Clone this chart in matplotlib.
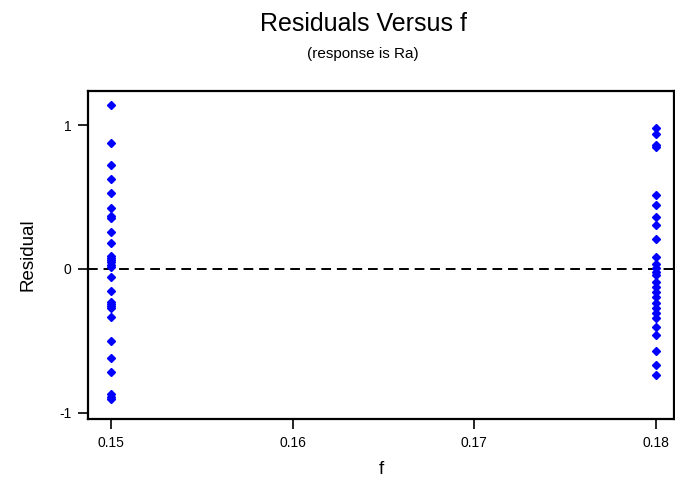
import matplotlib
matplotlib.use("Agg")
import matplotlib.pyplot as plt
import numpy as np

plt.rcParams["font.family"] = ["Liberation Sans", "DejaVu Sans"]
plt.rcParams["axes.unicode_minus"] = False

# residuals, grouped by f level
f_levels = [0.15, 0.18]
resid_015 = [1.143, 0.876, 0.725, 0.627, 0.527, 0.423, 0.369, 0.353, 0.260, 0.179,
             0.093, 0.079, 0.063, 0.047, 0.028, 0.016, -0.058, -0.153, -0.228, -0.244,
             -0.258, -0.274, -0.337, -0.499, -0.622, -0.715, -0.871, -0.890, -0.908]
resid_018 = [0.985, 0.938, 0.864, 0.848, 0.516, 0.446, 0.365, 0.307, 0.209, 0.086,
             0.035, 0.005, -0.019, -0.042, -0.088, -0.123, -0.158, -0.193, -0.239,
             -0.274, -0.304, -0.344, -0.406, -0.460, -0.571, -0.669, -0.739]

x_ticks = [0.15, 0.16, 0.17, 0.18]
x_tick_labels = ["0.15", "0.16", "0.17", "0.18"]
y_ticks = [-1, 0, 1]

fig = plt.figure(figsize=(6.75, 4.82), dpi=100)
ax = fig.add_axes([88 / 675, 1 - 419 / 482, 586 / 675, 328 / 482])

for level, resid in zip(f_levels, [resid_015, resid_018]):
    ax.plot(np.full(len(resid), level), resid, linestyle="none", marker="D",
            markersize=3.8, color="#0000ff", markeredgecolor="#0000ff")

ax.axhline(0, color="black", linestyle=(0, (5, 3)), linewidth=1.4, zorder=0)

ax.set_xlim(0.14873, 0.181)
ax.set_ylim(-1.045, 1.24)
ax.set_xticks(x_ticks)
ax.set_xticklabels(x_tick_labels)
ax.set_yticks(y_ticks)
ax.tick_params(direction="out", length=7, width=1.2, labelsize=10, pad=5)

for s in ax.spines.values():
    s.set_linewidth(1.6)

ax.set_xlabel("f", fontsize=13.5, labelpad=8)
ax.set_ylabel("Residual", fontsize=13.5, labelpad=16)

fig.text(0.538, 0.950, "Residuals Versus f", ha="center", va="center", fontsize=18)
fig.text(0.537, 0.888, "(response is Ra)", ha="center", va="center", fontsize=11)

fig.savefig("out.png", dpi=100)
plt.close(fig)
